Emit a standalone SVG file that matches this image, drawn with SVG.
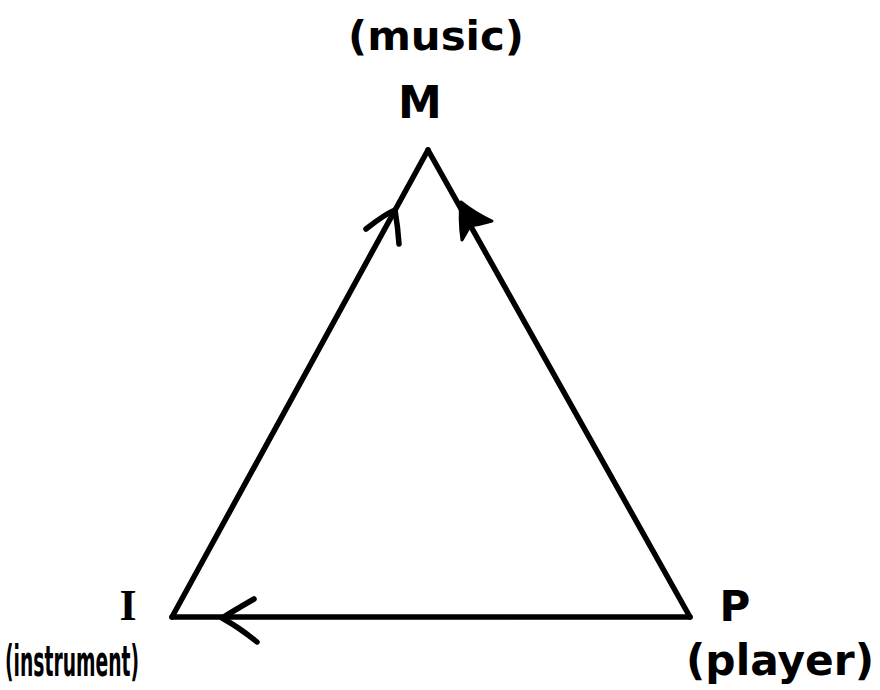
<svg xmlns="http://www.w3.org/2000/svg" width="880" height="690" viewBox="0 0 880 690">
<style>
.edge{stroke:#000;stroke-width:5.5;fill:none;stroke-linecap:round;stroke-linejoin:round}
.head{stroke:#000;stroke-width:5.5;fill:none;stroke-linecap:round;stroke-linejoin:round}
.lbl{font-family:"DejaVu Sans","Liberation Sans",sans-serif;font-weight:bold;fill:#000;text-anchor:middle}
</style>
<rect width="880" height="690" fill="#fff"/>
<g id="connectors">
<path class="edge" d="M172 617 L428 150"/>
<path class="edge" d="M428 150 L690 617"/>
<path class="edge" d="M690 617 L172 617"/>
<path class="head" d="M366 229 Q385 214 395 210 Q398 228 399 244"/>
<path d="M461 202 Q476 214 492 221 Q478 225 470 226 L462 240 Q459 220 461 202 Z" fill="#000" stroke="#000" stroke-width="3" stroke-linejoin="round"/>
<path class="head" d="M254 599 Q235 610 222 618 Q240 628 257 642"/>
</g>
<g id="node-M">
<text class="lbl" x="436" y="50" font-size="40" textLength="176" lengthAdjust="spacingAndGlyphs">(music)</text>
<text class="lbl" x="420" y="118" font-size="44">M</text>
</g>
<g id="node-I">
<text class="lbl" x="128" y="620" font-size="44" style="font-family:'Liberation Serif',serif;font-weight:bold">I</text>
<text class="lbl" x="72" y="676" font-size="42" textLength="134" lengthAdjust="spacingAndGlyphs">(instrument)</text>
</g>
<g id="node-P">
<text class="lbl" x="735" y="621" font-size="42">P</text>
<text class="lbl" x="780" y="675" font-size="42" textLength="188" lengthAdjust="spacingAndGlyphs">(player)</text>
</g>
</svg>
